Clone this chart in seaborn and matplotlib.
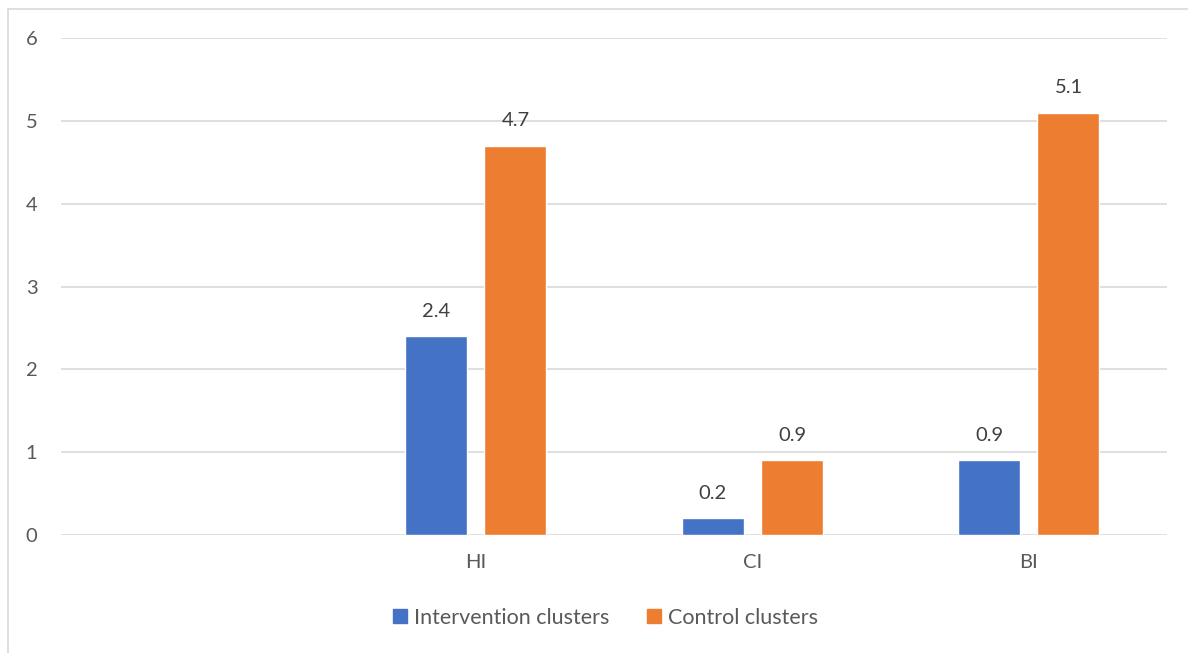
import matplotlib
matplotlib.use("Agg")
import matplotlib.pyplot as plt
from matplotlib.lines import Line2D
import seaborn as sns
import pandas as pd

categories = ["", "HI", "CI", "BI"]
indices = ["HI", "CI", "BI"]
intervention = [2.4, 0.2, 0.9]
control = [4.7, 0.9, 5.1]
series_names = ["Intervention clusters", "Control clusters"]
colors = ["#4472C4", "#ED7D31"]
y_ticks = [0, 1, 2, 3, 4, 5, 6]

df = pd.DataFrame({
    "index": indices * 2,
    "value": intervention + control,
    "group": [series_names[0]] * 3 + [series_names[1]] * 3,
})

sns.set_theme(style="white")
plt.rcParams["font.family"] = ["Lato", "DejaVu Sans"]

W, H = 1188, 653
fig = plt.figure(figsize=(W / 100, H / 100), dpi=100)
ax = fig.add_axes([61 / W, 1 - 535 / H, (1167 - 61) / W, (535 - 38) / H])

sns.barplot(data=df, x="index", y="value", hue="group", order=categories,
            hue_order=series_names, palette=colors, width=0.575, gap=0.22,
            saturation=1, errorbar=None, ax=ax, legend=False, zorder=3)

ax.set_ylim(0, 6)
ax.set_yticks(y_ticks)
ax.set_xlim(-0.5, len(categories) - 0.5)
ax.grid(axis="y", color="#D9D9D9", linewidth=1.2, zorder=0)
ax.grid(axis="x", visible=False)
for s in ax.spines.values():
    s.set_visible(False)
ax.tick_params(axis="y", length=0, pad=17, labelsize=14.5, labelcolor="#595959")
ax.tick_params(axis="x", length=0, pad=14, labelsize=14.5, labelcolor="#595959")
ax.set_xlabel("")
ax.set_ylabel("")

for cont in ax.containers:
    for bar in cont:
        h = bar.get_height()
        if h != h:
            continue
        ax.annotate(f"{h:.1f}", (bar.get_x() + bar.get_width() / 2, h),
                    xytext=(0, 18), textcoords="offset points",
                    ha="center", va="center", fontsize=14.5, color="#404040")

handles = [Line2D([], [], marker="s", linestyle="", markersize=10,
                  markerfacecolor=c, markeredgecolor=c) for c in colors]
fig.legend(handles, series_names, loc="center", bbox_to_anchor=(604 / W, 1 - 618 / H),
           ncol=2, frameon=False, fontsize=15.5, labelcolor="#595959",
           handletextpad=0.2, columnspacing=1.6, handlelength=0.9)

# outer chart frame
fig.add_artist(Line2D([8 / W, 1], [1 - 9 / H, 1 - 9 / H], transform=fig.transFigure,
                      color="#D9D9D9", linewidth=1.2))
fig.add_artist(Line2D([8 / W, 8 / W], [0, 1 - 9 / H], transform=fig.transFigure,
                      color="#D9D9D9", linewidth=1.2))

fig.savefig("out.png", dpi=100, facecolor="white")
